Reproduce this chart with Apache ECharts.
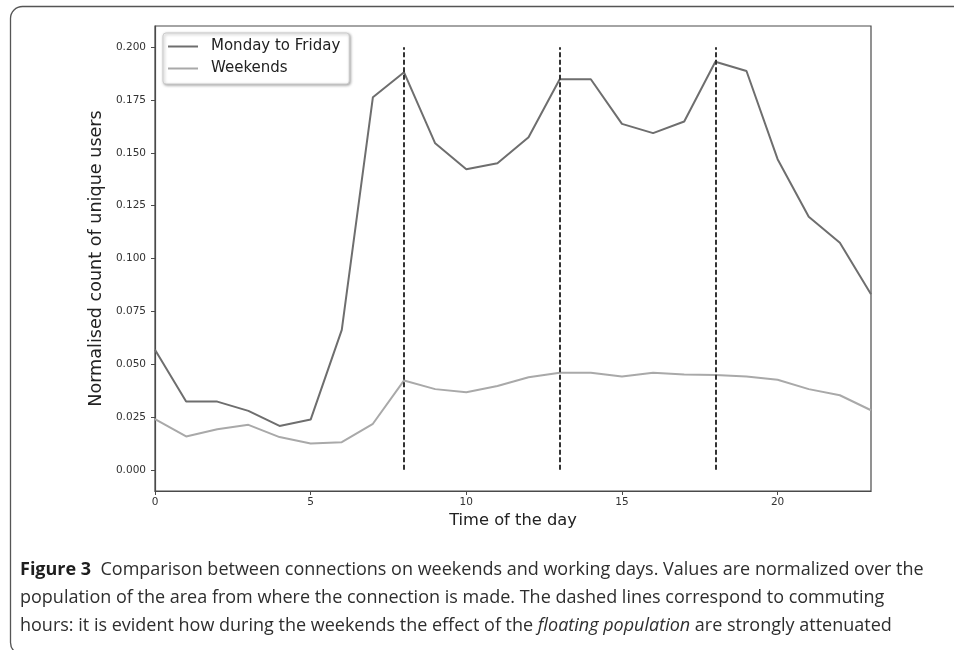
<!DOCTYPE html>
<html>
<head>
<meta charset="utf-8">
<script src="https://cdn.jsdelivr.net/npm/echarts@6/dist/echarts.min.js"></script>
<style>
html,body{margin:0;padding:0;background:#fff;}
#chart{width:954px;height:650px;}
</style>
</head>
<body>
<div id="chart"></div>
<script>
const hours = [0,1,2,3,4,5,6,7,8,9,10,11,12,13,14,15,16,17,18,19,20,21,22,23];
const weekdays = [0.0568,0.0323,0.0323,0.0279,0.0208,0.0238,0.0662,0.1763,0.1881,0.1545,0.1422,0.1451,0.1574,0.1848,0.1848,0.1637,0.1593,0.1648,0.1931,0.1887,0.1470,0.1198,0.1075,0.0831];
const weekends = [0.0240,0.0158,0.0192,0.0213,0.0155,0.0125,0.0131,0.0218,0.0423,0.0382,0.0367,0.0397,0.0438,0.0460,0.0460,0.0442,0.0459,0.0451,0.0449,0.0442,0.0426,0.0382,0.0353,0.0282];
const commuteHours = [8,13,18];
const dashRange = [0, 0.2];
const xTicks = [0,5,10,15,20];
const yTicks = [0,0.025,0.05,0.075,0.1,0.125,0.15,0.175,0.2];
const seriesNames = ['Monday to Friday','Weekends'];
const xTitle = 'Time of the day';
const yTitle = 'Normalised count of unique users';
const captionLines = [
  ['Figure 3', '  Comparison between connections on weekends and working days. Values are normalized over the'],
  ['population of the area from where the connection is made. The dashed lines correspond to commuting'],
  ['hours: it is evident how during the weekends the effect of the ', 'floating population', ' are strongly attenuated']
];

const chart = echarts.init(document.getElementById('chart'));
const tickFont = {fontFamily:'DejaVu Sans', fontSize:10.5, color:'#333'};
const capFont = 'Open Sans';
const capSize = 18;

const option = {
  animation:false,
  backgroundColor:'#fff',
  grid:{left:155, right:83, top:26, bottom:159, show:true, borderColor:'#4a4a4a', borderWidth:1.2, backgroundColor:'transparent'},
  legend:{
    orient:'vertical', left:163, top:33,
    data:seriesNames,
    icon:'rect', itemWidth:30, itemHeight:2, itemGap:7,
    padding:[6,9,8,5],
    backgroundColor:'#fff', borderColor:'#ccc', borderWidth:1, borderRadius:3,
    shadowColor:'rgba(0,0,0,0.35)', shadowBlur:3, shadowOffsetX:1, shadowOffsetY:1,
    textStyle:{fontFamily:'DejaVu Sans', fontSize:15, color:'#222', padding:[0,0,0,8]}
  },
  xAxis:{
    type:'value', min:0, max:23,
    name:xTitle, nameLocation:'middle', nameGap:21,
    nameTextStyle:{fontFamily:'DejaVu Sans', fontSize:16.3, color:'#222'},
    axisLine:{show:true, onZero:false, lineStyle:{color:'#4a4a4a', width:1.2}},
    axisTick:{show:true, length:4, customValues:xTicks, lineStyle:{color:'#4a4a4a'}},
    axisLabel:Object.assign({margin:6, customValues:xTicks}, tickFont),
    splitLine:{show:false}
  },
  yAxis:{
    type:'value', min:-0.01, max:0.21,
    name:yTitle, nameLocation:'middle', nameGap:40,
    nameTextStyle:{fontFamily:'DejaVu Sans', fontSize:17.6, color:'#222'},
    axisLine:{show:true, onZero:false, lineStyle:{color:'#4a4a4a', width:1.2}},
    axisTick:{show:true, length:4, customValues:yTicks, lineStyle:{color:'#4a4a4a'}},
    axisLabel:Object.assign({margin:9, customValues:yTicks, formatter:v=>v.toFixed(3)}, tickFont),
    splitLine:{show:false}
  },
  series:[
    {
      name:seriesNames[0], type:'line', showSymbol:false, symbol:'none',
      data:hours.map((h,i)=>[h,weekdays[i]]),
      lineStyle:{color:'#6e6e6e', width:2}, itemStyle:{color:'#6e6e6e'},
      z:3,
      markLine:{
        silent:true, symbol:'none', label:{show:false},
        lineStyle:{color:'#333', width:2, type:[5,2.5]},
        data:commuteHours.map(h=>[{coord:[h,dashRange[0]]},{coord:[h,dashRange[1]]}])
      }
    },
    {
      name:seriesNames[1], type:'line', showSymbol:false, symbol:'none',
      data:hours.map((h,i)=>[h,weekends[i]]),
      lineStyle:{color:'#a9a9a9', width:2}, itemStyle:{color:'#a9a9a9'},
      z:2
    }
  ],
  graphic:[
    {type:'rect', left:8, top:4, shape:{x:0,y:0,width:1000,height:648,r:12}, style:{fill:'none', stroke:'#555', lineWidth:1.3}, silent:true},
    {type:'text', x:20, y:570, style:{
      verticalAlign:'middle',
      rich:{b:{fontFamily:capFont,fontWeight:'bold',fontSize:capSize,fill:'#1e1e1e'}, n:{fontFamily:capFont,fontSize:capSize,fill:'#2e2e2e'}},
      text:'{b|'+captionLines[0][0]+'}{n|'+captionLines[0][1]+'}'
    }},
    {type:'text', x:20, y:598, style:{
      verticalAlign:'middle',
      rich:{n:{fontFamily:capFont,fontSize:capSize,fill:'#2e2e2e'}},
      text:'{n|'+captionLines[1][0]+'}'
    }},
    {type:'text', x:20, y:626, style:{
      verticalAlign:'middle',
      rich:{n:{fontFamily:capFont,fontSize:capSize,fill:'#2e2e2e'}, i:{fontFamily:capFont,fontStyle:'italic',fontSize:capSize,fill:'#2e2e2e'}},
      text:'{n|'+captionLines[2][0]+'}{i|'+captionLines[2][1]+'}{n|'+captionLines[2][2]+'}'
    }}
  ]
};
chart.setOption(option);
</script>
</body>
</html>
